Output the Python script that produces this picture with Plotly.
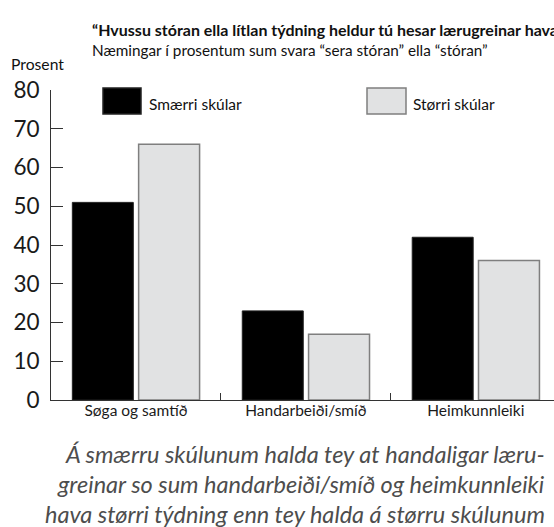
import plotly.graph_objects as go

categories = ["Søga og samtíð", "Handarbeiði/smíð", "Heimkunnleiki"]
smaerri = [51, 23, 42]
storri = [66, 17, 36]
series_names = ["Smærri skúlar", "Størri skúlar"]
y_ticks = [0, 10, 20, 30, 40, 50, 60, 70, 80]

W, H = 554, 527
ML, MR, MT, MB = 51, 0, 90, 127
PW, PH = W - ML - MR, H - MT - MB

def px(x):
    return (x - ML) / PW

def py(y):
    return (H - MB - y) / PH

FONT = "Lato"
fig = go.Figure()
fig.add_trace(go.Bar(x=categories, y=smaerri, name=series_names[0],
                     marker=dict(color="#000000", line=dict(color="#222222", width=1))))
fig.add_trace(go.Bar(x=categories, y=storri, name=series_names[1],
                     marker=dict(color="#e1e2e3", line=dict(color="#7f7f7f", width=1.5))))

fig.update_layout(
    width=W, height=H,
    margin=dict(l=ML, r=MR, t=MT, b=MB, pad=0),
    paper_bgcolor="white", plot_bgcolor="white",
    barmode="group", bargap=0.22, bargroupgap=0.08,
    showlegend=False,
    font=dict(family=FONT, color="#1a1a1a"),
)
fig.update_xaxes(type="category", range=[-0.5, 2.46], showline=True, linecolor="#333333",
                 linewidth=1, ticks="inside", tickson="boundaries", ticklen=7,
                 tickcolor="#333333", showgrid=False, zeroline=False,
                 tickfont=dict(size=15.5, family=FONT, color="#1a1a1a"), ticklabelstandoff=-4)
fig.update_yaxes(range=[0, 80], tickvals=y_ticks, showline=True, linecolor="#333333",
                 linewidth=1, ticks="inside", ticklen=12, tickcolor="#333333",
                 showgrid=False, zeroline=False,
                 tickfont=dict(size=22.5, family=FONT, color="#1a1a1a"), ticklabelstandoff=6)

ann = []
ann.append(dict(text="<b>“Hvussu stóran ella lítlan týdning heldur tú hesar lærugreinar hava</b>",
                x=px(90), y=py(30), xref="paper", yref="paper", xanchor="left", yanchor="middle",
                showarrow=False, font=dict(size=16, family=FONT, color="#111111")))
ann.append(dict(text="Næmingar í prosentum sum svara “sera stóran” ella “stóran”",
                x=px(90), y=py(50), xref="paper", yref="paper", xanchor="left", yanchor="middle",
                showarrow=False, font=dict(size=15.3, family=FONT, color="#111111")))
ann.append(dict(text="Prosent", x=px(9), y=py(64), xref="paper", yref="paper",
                xanchor="left", yanchor="middle", showarrow=False,
                font=dict(size=15.7, family=FONT, color="#111111")))

# legend
shapes = []
leg = [(103, 141, "#000000", "#222222", series_names[0], 147),
       (367, 406, "#e1e2e3", "#7f7f7f", series_names[1], 411)]
for x0, x1, fc, lc, name, tx in leg:
    shapes.append(dict(type="rect", xref="paper", yref="paper", x0=px(x0), x1=px(x1),
                       y0=py(114), y1=py(88), fillcolor=fc, line=dict(color=lc, width=1.5)))
    ann.append(dict(text=name, x=px(tx), y=py(104), xref="paper", yref="paper",
                    xanchor="left", yanchor="middle", showarrow=False,
                    font=dict(size=15.5, family=FONT, color="#111111")))

footer = ["Á smærru skúlunum halda tey at handaligar læru-",
          "greinar so sum handarbeiði/smíð og heimkunnleiki",
          "hava størri týdning enn tey halda á størru skúlunum"]
for i, line in enumerate(footer):
    ann.append(dict(text="<i>" + line + "</i>", x=px(547), y=py(454 + 30 * i),
                    xref="paper", yref="paper", xanchor="right", yanchor="middle",
                    showarrow=False, font=dict(size=23.5, family=FONT, color="#4d4d4d")))

fig.update_layout(annotations=ann, shapes=shapes)
fig.write_html("out.html", config={"displayModeBar": False},
               post_script="document.body.style.margin='0';")
